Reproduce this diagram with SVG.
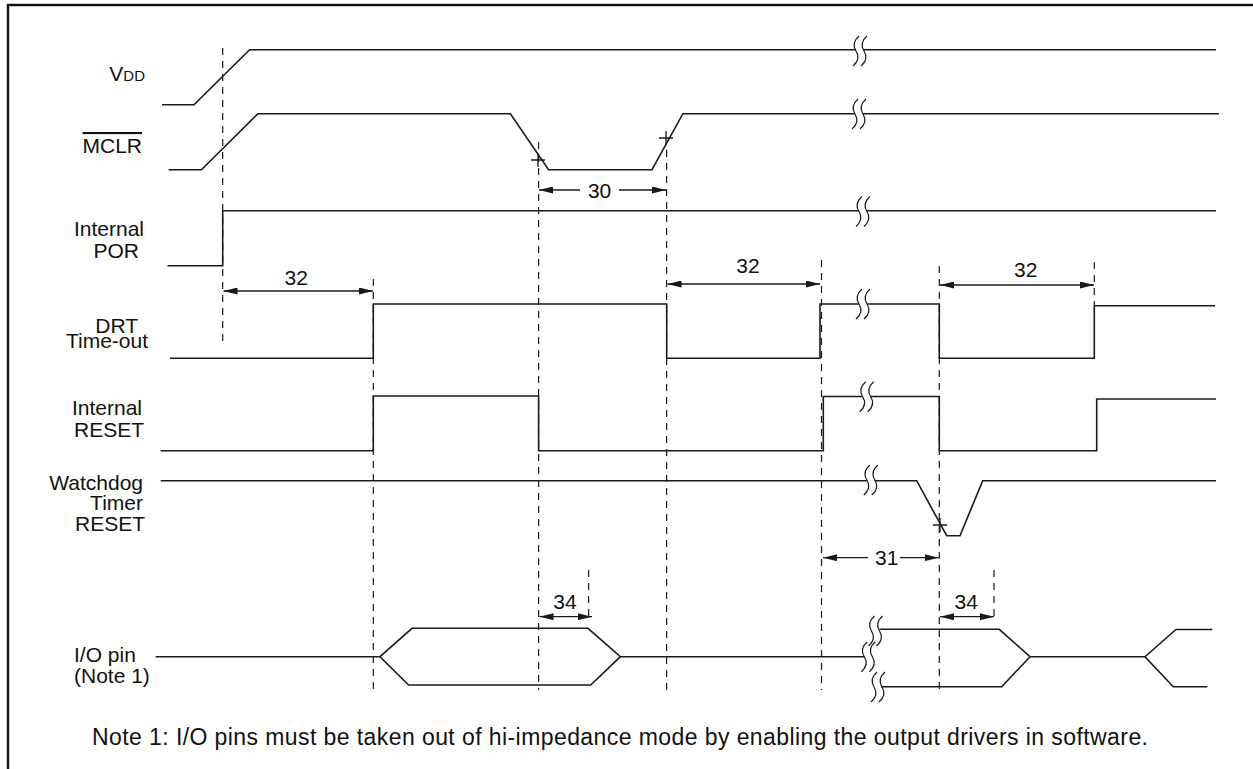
<svg xmlns="http://www.w3.org/2000/svg" xmlns:xlink="http://www.w3.org/1999/xlink" width="1253" height="769" viewBox="0 0 1253 769">
<style>
.sig{fill:none;stroke:#1a1a1a;stroke-width:1.6;stroke-linejoin:miter}
.brk{fill:none;stroke:#1a1a1a;stroke-width:1.2}
.dash{fill:none;stroke:#1a1a1a;stroke-width:1.2;stroke-dasharray:7 6}
.dim{fill:none;stroke:#1a1a1a;stroke-width:1.3}
.lbl{font-family:"Liberation Sans",Arial,Helvetica,sans-serif;font-size:21px;fill:#111}
.note{font-family:"Liberation Sans",Arial,Helvetica,sans-serif;font-size:23px;fill:#111}
.num{font-family:"Liberation Sans",Arial,Helvetica,sans-serif;font-size:21px;fill:#111;text-anchor:middle}
.end{text-anchor:end}
</style>
<defs>
<marker id="ah" viewBox="0 0 14 7" refX="14" refY="3.5" markerWidth="14" markerHeight="7" markerUnits="userSpaceOnUse" orient="auto-start-reverse">
<path d="M0,0 L14,3.5 L0,7 z" fill="#1a1a1a"/>
</marker>
<g id="wv">
<path class="brk" d="M-1,-15 Q-9,-8 -4,0 Q1,8 -7,15"/>
<path class="brk" d="M7,-15 Q-1,-8 4,0 Q9,8 1,15"/>
</g>
</defs>
<rect x="8" y="5" width="1270" height="800" fill="#fff" stroke="#111" stroke-width="2.4"/>

<g id="labels">
<text class="lbl end" x="145" y="81">V<tspan font-size="15">DD</tspan></text>
<text class="lbl end" x="142" y="153" style="text-decoration:overline">MCLR</text>
<text class="lbl end" x="144" y="236">Internal</text>
<text class="lbl end" x="139" y="258">POR</text>
<text class="lbl end" x="138" y="333">DRT</text>
<text class="lbl end" x="148" y="348">Time-out</text>
<text class="lbl end" x="142" y="415">Internal</text>
<text class="lbl end" x="144" y="437">RESET</text>
<text class="lbl end" x="143" y="490">Watchdog</text>
<text class="lbl end" x="143" y="510">Timer</text>
<text class="lbl end" x="145" y="531">RESET</text>
<text class="lbl" x="74" y="662">I/O pin</text>
<text class="lbl" x="74" y="683">(Note 1)</text>
<text class="note" x="92" y="745" textLength="1056" lengthAdjust="spacing">Note 1: I/O pins must be taken out of hi-impedance mode by enabling the output drivers in software.</text>
</g>

<g id="vdd">
<polyline class="sig" points="162,104.7 194,104.7 249.6,49.7 856,49.7"/>
<line class="sig" x1="864" y1="49.7" x2="1216" y2="49.7"/>
<use xlink:href="#wv" href="#wv" x="860" y="51"/>
</g>

<g id="mclr">
<polyline class="sig" points="168.6,169.7 201.4,169.7 257.9,113.7 510.4,113.7 548.6,169.7 652,169.7 682.9,113.7 855,113.7"/>
<line class="sig" x1="863" y1="113.7" x2="1219" y2="113.7"/>
<use xlink:href="#wv" href="#wv" x="859" y="114"/>
<path class="dim" d="M531,160 H545 M538,153 V167"/>
<path class="dim" d="M659,138 H673 M666,131 V145"/>
</g>

<g id="por">
<polyline class="sig" points="167.5,265.7 222.7,265.7 222.7,210.7 859,210.7"/>
<line class="sig" x1="867" y1="210.7" x2="1216" y2="210.7"/>
<use xlink:href="#wv" href="#wv" x="863" y="211.5"/>
</g>

<g id="drt">
<polyline class="sig" points="170,358.3 373.3,358.3 373.3,304 666.7,304 666.7,358.3 820,358.3 820,304 859,304"/>
<polyline class="sig" points="867,304 939.3,304 939.3,358.3 1094.3,358.3 1094.3,305.7 1215,305.7"/>
<use xlink:href="#wv" href="#wv" x="863" y="304"/>
</g>

<g id="internal-reset">
<polyline class="sig" points="160.7,450.7 373.3,450.7 373.3,396 538.6,396 538.6,450.7 823.3,450.7 823.3,396.5 862.7,396.5"/>
<polyline class="sig" points="870.7,396.5 939.3,396.5 939.3,450.7 1096.7,450.7 1096.7,399 1216,399"/>
<use xlink:href="#wv" href="#wv" x="866.7" y="396.7"/>
</g>

<g id="wdt-reset">
<line class="sig" x1="160.7" y1="480.7" x2="866.8" y2="480.7"/>
<polyline class="sig" points="874.8,480.7 916.7,480.7 946.7,535.7 960,535.7 982.7,480.7 1216,480.7"/>
<use xlink:href="#wv" href="#wv" x="870.8" y="480"/>
<path class="dim" d="M933,525 H947 M940,518 V532"/>
</g>

<g id="io-pin">
<line class="sig" x1="155.7" y1="656.7" x2="380" y2="656.7"/>
<polygon class="sig" points="380,656.7 412,628.3 588,628.3 620.4,656.7 590.7,685 408.6,685"/>
<line class="sig" x1="620.4" y1="656.7" x2="864.3" y2="656.7"/>
<polyline class="sig" points="879.5,629.3 999.3,629.3 1030,656.7"/>
<polyline class="sig" points="881,686.7 1001.7,686.7 1030,656.7"/>
<line class="sig" x1="1030" y1="656.7" x2="1145" y2="656.7"/>
<polyline class="sig" points="1212.3,629.5 1176,629.5 1145,656.7 1173.3,686.7 1207.3,686.7"/>
<use xlink:href="#wv" href="#wv" x="875.5" y="631"/>
<use xlink:href="#wv" href="#wv" x="868.3" y="656.7"/>
<use xlink:href="#wv" href="#wv" x="878" y="687"/>
</g>

<g id="connectors">
<line class="dash" x1="222.7" y1="48" x2="222.7" y2="342"/>
<line class="dash" x1="373.3" y1="279" x2="373.3" y2="690"/>
<line class="dash" x1="538.6" y1="142" x2="538.6" y2="690"/>
<line class="dash" x1="666.6" y1="150" x2="666.6" y2="690"/>
<line class="dash" x1="821.5" y1="260" x2="821.5" y2="690"/>
<line class="dash" x1="939.3" y1="266" x2="939.3" y2="690"/>
<line class="dash" x1="1094.3" y1="262" x2="1094.3" y2="305"/>
<line class="dash" x1="588.6" y1="570" x2="588.6" y2="616"/>
<line class="dash" x1="994" y1="570" x2="994" y2="616"/>

<line class="dim" x1="580" y1="190" x2="539" y2="190" marker-end="url(#ah)"/>
<line class="dim" x1="619" y1="190" x2="666" y2="190" marker-end="url(#ah)"/>
<text class="num" x="599.6" y="198">30</text>

<line class="dim" x1="223.5" y1="291" x2="373" y2="291" marker-start="url(#ah)" marker-end="url(#ah)"/>
<text class="num" x="296.3" y="285">32</text>

<line class="dim" x1="667.5" y1="284" x2="820" y2="284" marker-start="url(#ah)" marker-end="url(#ah)"/>
<text class="num" x="748" y="273">32</text>

<line class="dim" x1="940" y1="285" x2="1094" y2="285" marker-start="url(#ah)" marker-end="url(#ah)"/>
<text class="num" x="1025.7" y="276.7">32</text>

<line class="dim" x1="868" y1="557.7" x2="823" y2="557.7" marker-end="url(#ah)"/>
<line class="dim" x1="900" y1="557.7" x2="938.5" y2="557.7" marker-end="url(#ah)"/>
<text class="num" x="886.7" y="565">31</text>

<line class="dim" x1="539.5" y1="616.7" x2="592" y2="616.7" marker-start="url(#ah)" marker-end="url(#ah)"/>
<text class="num" x="565" y="609.3">34</text>

<line class="dim" x1="940" y1="616.7" x2="994" y2="616.7" marker-start="url(#ah)" marker-end="url(#ah)"/>
<text class="num" x="966.3" y="609.3">34</text>
</g>
</svg>
